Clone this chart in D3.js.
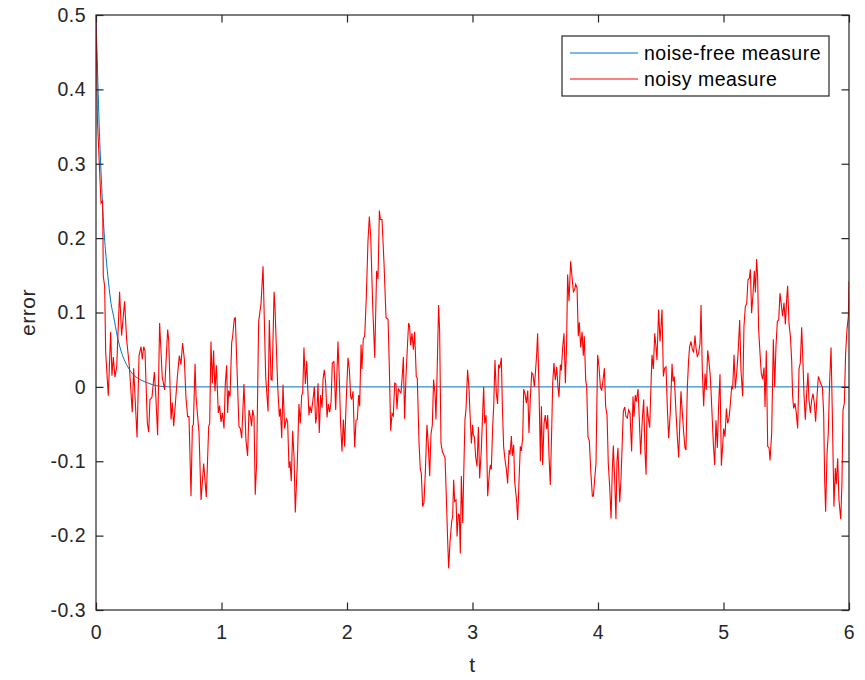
<!DOCTYPE html>
<html>
<head>
  <meta charset='utf-8' />
  <title>error vs t</title>
  <style>
    html, body { margin: 0; padding: 0; background: #fff; }
    body { font-family: 'Liberation Sans', Arial, sans-serif; }
    .axis-line { fill: none; stroke: #262626; stroke-width: 1.2; }
    .tick-label { fill: #262626; font-size: 19.5px; letter-spacing: 0.5px; }
    .axis-title { fill: #262626; font-size: 21px; letter-spacing: 0.5px; }
    .legend-text { fill: #000; font-size: 19.5px; letter-spacing: 0.5px; }
  </style>
</head>
<body>
<div id="chart"></div>
<script src="https://cdn.jsdelivr.net/npm/d3@7"></script>
<script>
  // axis ticks
  const xTicks = [0, 1, 2, 3, 4, 5, 6]
  const yTicks = [-0.3, -0.2, -0.1, 0, 0.1, 0.2, 0.3, 0.4, 0.5]
  const seriesNames = ['noise-free measure', 'noisy measure']

  // noise-free measure
  const cleanT = [0, 0.01, 0.02, 0.03, 0.04, 0.06, 0.08, 0.1, 0.12, 0.14, 0.17, 0.2, 0.25, 0.3, 0.35, 0.4, 0.45, 0.5, 0.6, 0.7, 6]
  const cleanErr = [0.5, 0.44, 0.38, 0.33, 0.29, 0.22, 0.175, 0.14, 0.112, 0.095, 0.068, 0.048, 0.028, 0.016, 0.01, 0.006, 0.003, 0.001, 0, 0, 0]

  // noisy measure
  const noisyT = [
    0, 0.011, 0.04, 0.053, 0.058, 0.069, 0.077, 0.098, 0.117, 0.127, 0.138, 0.151, 0.165, 0.188, 0.204, 0.228, 0.244, 0.266, 0.289, 0.3,
    0.327, 0.343, 0.359, 0.369, 0.38, 0.39, 0.409, 0.42, 0.43, 0.446, 0.465, 0.475, 0.491, 0.507, 0.528, 0.547, 0.571, 0.579, 0.598, 0.608,
    0.619, 0.648, 0.664, 0.677, 0.69, 0.704, 0.717, 0.73, 0.741, 0.757, 0.768, 0.776, 0.789, 0.797, 0.821, 0.837, 0.858, 0.879, 0.898, 0.906,
    0.916, 0.927, 0.937, 0.948, 0.959, 0.975, 0.985, 0.996, 1.007, 1.02, 1.03, 1.041, 1.049, 1.057, 1.068, 1.081, 1.089, 1.102, 1.11, 1.139,
    1.15, 1.161, 1.179, 1.195, 1.208, 1.219, 1.232, 1.24, 1.248, 1.259, 1.269, 1.28, 1.296, 1.315, 1.331, 1.352, 1.371, 1.381, 1.395, 1.403,
    1.419, 1.426, 1.448, 1.461, 1.469, 1.48, 1.49, 1.503, 1.517, 1.527, 1.538, 1.546, 1.556, 1.567, 1.578, 1.588, 1.604, 1.617, 1.628, 1.639,
    1.647, 1.657, 1.668, 1.679, 1.687, 1.697, 1.705, 1.716, 1.729, 1.74, 1.75, 1.758, 1.769, 1.779, 1.79, 1.801, 1.809, 1.819, 1.83, 1.841,
    1.851, 1.862, 1.873, 1.883, 1.896, 1.91, 1.928, 1.939, 1.949, 1.96, 1.971, 1.981, 1.995, 2.008, 2.019, 2.029, 2.037, 2.048, 2.061, 2.072,
    2.082, 2.093, 2.101, 2.112, 2.119, 2.13, 2.141, 2.154, 2.167, 2.178, 2.189, 2.205, 2.221, 2.236, 2.247, 2.258, 2.266, 2.279, 2.295, 2.311,
    2.327, 2.337, 2.348, 2.359, 2.369, 2.38, 2.39, 2.398, 2.409, 2.42, 2.43, 2.441, 2.449, 2.459, 2.47, 2.483, 2.491, 2.499, 2.507, 2.518,
    2.529, 2.539, 2.552, 2.56, 2.574, 2.584, 2.592, 2.603, 2.613, 2.624, 2.637, 2.648, 2.659, 2.669, 2.68, 2.69, 2.701, 2.709, 2.72, 2.73,
    2.738, 2.749, 2.76, 2.77, 2.781, 2.791, 2.802, 2.81, 2.821, 2.834, 2.842, 2.85, 2.858, 2.869, 2.877, 2.887, 2.895, 2.903, 2.911, 2.922,
    2.93, 2.94, 2.948, 2.961, 2.972, 2.98, 2.991, 3.001, 3.007, 3.015, 3.025, 3.036, 3.047, 3.057, 3.07, 3.081, 3.089, 3.097, 3.108, 3.121,
    3.134, 3.142, 3.15, 3.161, 3.169, 3.179, 3.19, 3.2, 3.208, 3.217, 3.23, 3.238, 3.248, 3.259, 3.27, 3.28, 3.291, 3.299, 3.31, 3.317,
    3.328, 3.336, 3.344, 3.352, 3.36, 3.371, 3.381, 3.389, 3.4, 3.408, 3.418, 3.429, 3.44, 3.45, 3.461, 3.472, 3.482, 3.493, 3.503, 3.511,
    3.519, 3.53, 3.541, 3.549, 3.559, 3.57, 3.58, 3.591, 3.599, 3.61, 3.62, 3.631, 3.639, 3.649, 3.66, 3.671, 3.681, 3.689, 3.7, 3.708,
    3.718, 3.729, 3.74, 3.75, 3.758, 3.769, 3.782, 3.793, 3.804, 3.814, 3.822, 3.833, 3.843, 3.851, 3.862, 3.873, 3.883, 3.891, 3.902, 3.91,
    3.92, 3.931, 3.942, 3.955, 3.963, 3.974, 3.984, 3.997, 4.008, 4.019, 4.029, 4.04, 4.051, 4.061, 4.072, 4.082, 4.093, 4.104, 4.114, 4.122,
    4.133, 4.143, 4.151, 4.159, 4.173, 4.183, 4.194, 4.202, 4.213, 4.223, 4.234, 4.244, 4.255, 4.268, 4.279, 4.287, 4.297, 4.305, 4.319, 4.327,
    4.34, 4.353, 4.364, 4.375, 4.383, 4.391, 4.401, 4.412, 4.422, 4.43, 4.441, 4.452, 4.462, 4.47, 4.483, 4.494, 4.502, 4.51, 4.521, 4.531,
    4.542, 4.552, 4.563, 4.576, 4.59, 4.598, 4.608, 4.619, 4.632, 4.643, 4.653, 4.661, 4.672, 4.683, 4.693, 4.701, 4.712, 4.722, 4.73, 4.741,
    4.752, 4.762, 4.773, 4.781, 4.791, 4.802, 4.813, 4.821, 4.831, 4.842, 4.853, 4.863, 4.874, 4.884, 4.895, 4.906, 4.919, 4.93, 4.94, 4.951,
    4.961, 4.972, 4.983, 4.993, 5.001, 5.012, 5.023, 5.033, 5.044, 5.054, 5.065, 5.073, 5.084, 5.094, 5.105, 5.116, 5.129, 5.139, 5.153, 5.163,
    5.174, 5.185, 5.195, 5.206, 5.214, 5.224, 5.235, 5.246, 5.254, 5.264, 5.272, 5.28, 5.291, 5.301, 5.312, 5.323, 5.331, 5.341, 5.352, 5.363,
    5.371, 5.384, 5.397, 5.408, 5.418, 5.429, 5.44, 5.45, 5.461, 5.471, 5.482, 5.493, 5.503, 5.511, 5.522, 5.533, 5.543, 5.551, 5.559, 5.57,
    5.58, 5.591, 5.602, 5.612, 5.623, 5.633, 5.641, 5.652, 5.663, 5.673, 5.681, 5.692, 5.703, 5.713, 5.724, 5.734, 5.745, 5.756, 5.766, 5.777,
    5.788, 5.798, 5.806, 5.814, 5.825, 5.835, 5.846, 5.857, 5.867, 5.88, 5.891, 5.899, 5.91, 5.92, 5.934, 5.944, 5.952, 5.963, 5.973, 5.984,
    5.995, 6.0
  ]
  const noisyErr = [
    0.5, 0.36, 0.247, 0.25, 0.149, 0.135, 0.047, -0.012, 0.074, 0.015, 0.04, 0.013, 0.027, 0.128, 0.069, 0.115, 0.064, 0.027, -0.034, 0.025,
    -0.068, 0.042, 0.054, 0.037, 0.054, 0.049, -0.048, -0.061, -0.017, -0.014, 0.02, -0.007, -0.065, 0.086, 0.013, -0.004, 0.077, 0.064, -0.044, -0.021,
    -0.053, 0.013, 0.042, 0.03, 0.059, 0.037, -0.015, -0.04, -0.04, -0.147, -0.053, -0.051, 0.031, -0.013, -0.062, -0.152, -0.103, -0.148, -0.053, -0.049,
    0.061, 0.005, 0.049, -0.006, 0.029, -0.035, -0.025, -0.047, -0.035, -0.056, 0.003, 0.029, -0.035, -0.005, -0.013, 0.059, 0.068, 0.092, 0.093, -0.053,
    -0.056, -0.069, 0.004, -0.072, -0.093, -0.031, -0.042, -0.053, -0.031, -0.04, -0.145, -0.102, 0.088, 0.112, 0.162, 0.014, -0.033, 0.09, 0.01, 0.009,
    0.128, 0.108, 0, -0.04, -0.029, -0.069, 0.003, -0.056, -0.043, -0.047, -0.109, -0.1, -0.127, -0.059, -0.094, -0.169, -0.103, -0.023, -0.049, -0.011,
    -0.009, 0.053, 0.004, 0.035, 0, -0.038, -0.026, -0.035, -0.017, 0, -0.049, -0.04, 0.005, -0.062, -0.011, -0.028, 0.01, 0.023, 0.005, -0.041,
    -0.023, -0.034, -0.02, 0.032, 0.034, -0.031, 0.061, 0.009, -0.049, -0.087, -0.044, -0.08, -0.013, 0.039, 0.023, -0.013, -0.017, -0.006, -0.081, -0.045,
    -0.044, -0.011, -0.026, 0.057, 0.024, 0.065, 0.068, 0.121, 0.195, 0.229, 0.202, 0.108, 0.039, 0.156, 0.145, 0.237, 0.225, 0.225, 0.166, 0.093,
    0.091, 0.028, -0.059, -0.036, -0.039, 0.005, 0.004, -0.03, -0.002, -0.006, -0.008, 0.016, 0.04, -0.043, 0.014, 0.06, 0.086, 0.081, 0.056, 0.072,
    0.05, 0.074, 0.014, 0.012, -0.075, -0.111, -0.116, -0.161, -0.156, -0.116, -0.051, -0.078, -0.12, -0.064, -0.051, 0.01, -0.009, -0.044, 0.034, 0.11,
    0.076, -0.076, -0.087, -0.091, -0.095, -0.145, -0.206, -0.244, -0.208, -0.181, -0.174, -0.125, -0.154, -0.152, -0.201, -0.171, -0.172, -0.224, -0.12, -0.183,
    -0.118, -0.044, -0.031, 0.023, -0.002, -0.035, -0.076, -0.051, -0.065, -0.067, -0.094, -0.107, -0.054, -0.123, -0.085, -0.036, 0, -0.049, -0.038, -0.147,
    -0.116, -0.105, -0.111, -0.053, -0.026, 0.036, -0.009, -0.023, 0.03, 0.025, 0.039, -0.026, -0.08, -0.098, -0.111, -0.13, -0.085, -0.091, -0.066, -0.093,
    -0.078, -0.127, -0.141, -0.154, -0.179, -0.125, -0.08, -0.086, -0.069, -0.003, -0.009, -0.022, -0.005, -0.062, -0.015, 0.019, 0.017, 0, 0.023, 0.043,
    0.072, -0.004, -0.1, -0.026, -0.105, -0.049, -0.038, -0.057, -0.038, -0.094, -0.132, -0.058, 0.005, 0.032, 0.009, 0.027, 0, -0.014, 0.03, 0.022,
    0.052, 0.072, 0.005, 0.059, 0.151, 0.115, 0.169, 0.148, 0.128, 0.131, 0.138, 0.133, 0.068, 0.087, 0.053, 0.074, 0.042, 0.068, 0.009, 0,
    -0.067, -0.073, -0.112, -0.147, -0.147, -0.123, -0.103, 0.043, 0.027, 0, -0.005, 0.009, 0.025, -0.026, -0.038, -0.103, -0.134, -0.177, -0.112, -0.079,
    -0.125, -0.178, -0.1, -0.082, -0.155, -0.125, -0.071, -0.033, -0.027, -0.04, -0.042, -0.031, -0.035, -0.087, -0.013, -0.04, -0.011, -0.02, -0.003, -0.035,
    -0.091, -0.044, -0.017, -0.089, -0.118, -0.026, -0.042, -0.055, 0, 0.043, 0.024, 0.072, 0.054, 0.036, 0.104, 0.061, 0.081, 0.104, 0.014, 0.025,
    0.027, -0.026, -0.069, -0.035, 0.031, 0.007, 0.014, -0.026, -0.067, -0.095, -0.044, -0.006, -0.035, -0.062, -0.082, -0.085, 0, 0.036, 0.054, 0.061,
    0.05, 0.047, 0.069, 0.052, 0.041, 0.045, 0.059, 0.11, 0.023, -0.026, 0.018, -0.004, 0.049, 0.034, 0.014, -0.026, -0.076, -0.105, -0.045, -0.082,
    -0.026, 0.017, -0.106, -0.08, -0.056, -0.067, -0.029, -0.049, -0.042, -0.024, 0, -0.002, 0.043, -0.002, 0.018, 0.045, 0.09, 0.023, -0.013, 0.081,
    0.108, 0.112, 0.144, 0.146, 0.158, 0.099, 0.124, 0.156, 0.127, 0.172, 0.148, 0.077, 0.045, 0.018, 0.01, 0.026, -0.027, 0.049, -0.08, -0.082,
    -0.099, -0.062, 0.064, 0, 0.054, 0.088, 0.09, 0.126, 0.11, 0.095, 0.113, 0.084, 0.117, 0.136, 0.085, 0.068, 0.036, -0.013, -0.029, -0.022,
    -0.035, -0.056, 0.025, 0.032, 0.08, 0.034, -0.009, -0.044, -0.009, 0.019, -0.017, -0.035, -0.017, -0.009, -0.022, -0.047, -0.013, 0.014, 0.009, 0.003,
    0, -0.035, -0.125, -0.168, -0.09, -0.062, 0.009, 0.053, -0.035, -0.161, -0.109, -0.131, -0.096, -0.152, -0.178, -0.129, -0.031, -0.022, 0.045, 0.077,
    0.095, 0.142
  ]

  const W = 865
  const H = 680
  const margin = { top: 15, right: 16, bottom: 70, left: 96 }
  const width = W - margin.left - margin.right
  const height = H - margin.top - margin.bottom
  const tickLen = 7.5

  const x = d3.scaleLinear().domain([0, 6]).range([0, width])
  const y = d3.scaleLinear().domain([-0.3, 0.5]).range([height, 0])

  const svg = d3.select('#chart').append('svg')
    .attr('width', W)
    .attr('height', H)

  const g = svg.append('g')
    .attr('transform', 'translate(' + margin.left + ',' + margin.top + ')')

  g.append('clipPath').attr('id', 'plot-clip')
    .append('rect').attr('width', width).attr('height', height)

  const clean = cleanT.map((t, i) => ({ t, e: cleanErr[i] }))
  const noisy = noisyT.map((t, i) => ({ t, e: noisyErr[i] }))

  const lines = g.append('g').attr('clip-path', 'url(#plot-clip)')

  lines.append('path')
    .datum(clean)
    .attr('fill', 'none')
    .attr('stroke', '#0072BD')
    .attr('stroke-width', 1)
    .attr('d', d3.line().x(d => x(d.t)).y(d => y(d.e)).curve(d3.curveMonotoneX))

  lines.append('path')
    .datum(noisy)
    .attr('fill', 'none')
    .attr('stroke', '#FF0000')
    .attr('stroke-width', 1.1)
    .attr('d', d3.line().x(d => x(d.t)).y(d => y(d.e)))

  // MATLAB style box with inward ticks on all four sides
  const fmt = d => d === 0 ? '0' : d3.format('.1f')(d).replace('−', '-')

  const bottomAxis = d3.axisBottom(x).tickValues(xTicks).tickSizeInner(-tickLen).tickSizeOuter(0).tickPadding(15).tickFormat(d3.format('d'))
  const topAxis = d3.axisTop(x).tickValues(xTicks).tickSizeInner(-tickLen).tickSizeOuter(0).tickFormat('')
  const leftAxis = d3.axisLeft(y).tickValues(yTicks).tickSizeInner(-tickLen).tickSizeOuter(0).tickPadding(10).tickFormat(fmt)
  const rightAxis = d3.axisRight(y).tickValues(yTicks).tickSizeInner(-tickLen).tickSizeOuter(0).tickFormat('')

  const styleAxis = sel => {
    sel.select('.domain').remove()
    sel.selectAll('.tick line').attr('stroke', '#262626').attr('stroke-width', 1.2)
    sel.selectAll('.tick text').attr('class', 'tick-label').attr('font-family', null).attr('font-size', null)
    sel.attr('font-family', null).attr('font-size', null)
  }

  g.append('g').attr('transform', 'translate(0,' + height + ')').call(bottomAxis).call(styleAxis)
  g.append('g').call(topAxis).call(styleAxis)
  g.append('g').call(leftAxis).call(styleAxis)
  g.append('g').attr('transform', 'translate(' + width + ',0)').call(rightAxis).call(styleAxis)

  g.append('rect')
    .attr('class', 'axis-line')
    .attr('width', width)
    .attr('height', height)

  // axis titles
  g.append('text')
    .attr('class', 'axis-title')
    .attr('x', width / 2)
    .attr('y', height + 62)
    .attr('text-anchor', 'middle')
    .text('t')

  g.append('text')
    .attr('class', 'axis-title')
    .attr('transform', 'translate(-61,' + (height / 2) + ') rotate(-90)')
    .attr('text-anchor', 'middle')
    .text('error')

  // legend
  const legend = svg.append('g').attr('transform', 'translate(562,36)')
  legend.append('rect')
    .attr('width', 267)
    .attr('height', 60)
    .attr('fill', '#fff')
    .attr('stroke', '#262626')
    .attr('stroke-width', 1.2)

  const legendColors = ['#0072BD', '#FF0000']
  seriesNames.forEach((name, i) => {
    const row = legend.append('g').attr('transform', 'translate(0,' + (17 + i * 26) + ')')
    row.append('line')
      .attr('x1', 8).attr('x2', 76)
      .attr('stroke', legendColors[i])
      .attr('stroke-width', 1)
    row.append('text')
      .attr('class', 'legend-text')
      .attr('x', 82)
      .attr('dy', '0.35em')
      .text(name)
  })
</script>
</body>
</html>
